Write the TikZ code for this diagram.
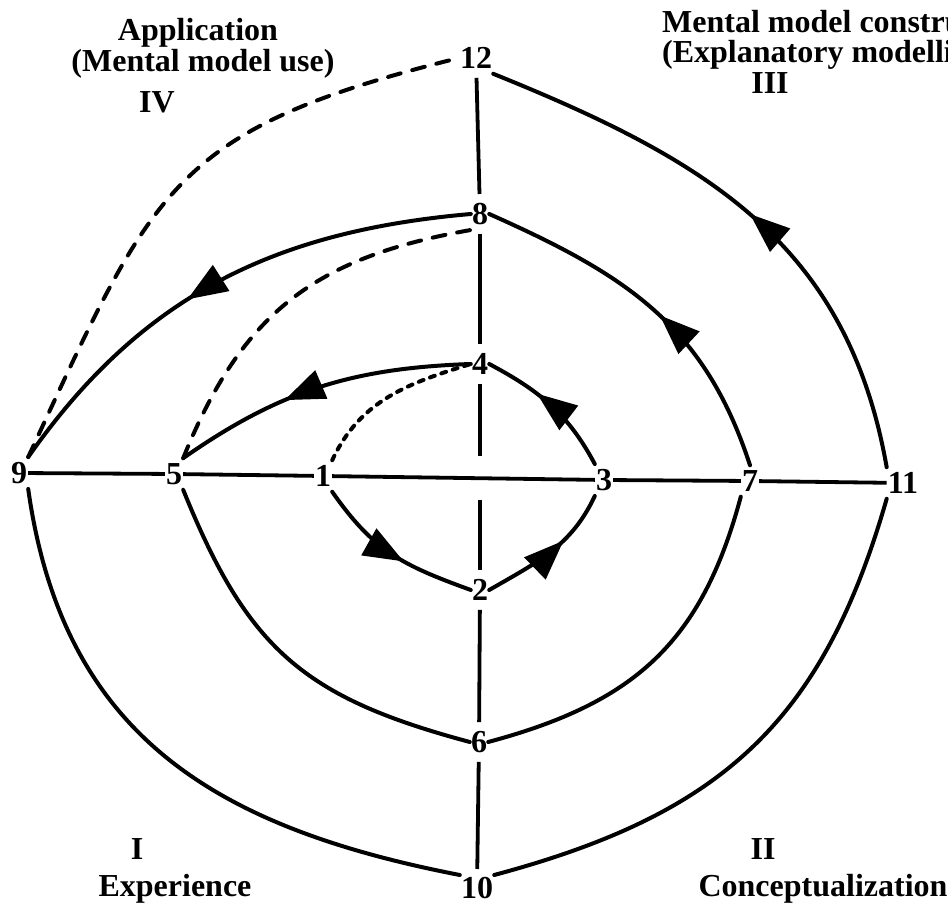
\documentclass[tikz,border=0pt]{standalone}
\usepackage{fontspec}
\setmainfont{Liberation Serif}
\usetikzlibrary{arrows.meta,decorations.markings}
\begin{document}
\begin{tikzpicture}[x=1pt,y=1pt,
  num/.style={font=\fontsize{32}{34}\selectfont\bfseries, inner xsep=1pt, inner ysep=5pt},
  captxt/.style={font=\fontsize{32}{36}\selectfont\bfseries, inner sep=0pt, anchor=base},
  captxtw/.style={font=\fontsize{32}{36}\selectfont\bfseries, inner sep=0pt, anchor=base west},
  ax/.style={line width=3.8pt},
  cv/.style={line width=4pt, line cap=round},
  dsh/.style={line width=4pt, line cap=round, dash pattern=on 13pt off 12pt},
  dtt/.style={line width=4pt, line cap=round, dash pattern=on 5pt off 7pt},
  midarrow/.style={postaction={decorate}, decoration={markings,
     mark=at position #1 with {\arrow{Triangle[length=40pt,width=30pt]}}}}
]
\useasboundingbox (0,0) rectangle (948,905);

% numbered nodes
\node[num] (n9)  at (19,432)  {9};
\node[num] (n5)  at (174,431) {5};
\node[num] (n1)  at (323,429) {1};
\node[num] (n3)  at (604,425) {3};
\node[num] (n7)  at (750,424) {7};
\node[num] (n11) at (903,422) {11};
\node[num] (n12) at (476,847) {12};
\node[num] (n8)  at (480,691) {8};
\node[num] (n4)  at (480,541) {4};
\node[num] (n2)  at (480,315) {2};
\node[num] (n6)  at (479,163) {6};
\node[num, inner ysep=2pt] (n10) at (477,17)  {10};

% quadrant captions
\node[captxt] (tApp) at (198,864) {Application};
\node[captxt] (tUse) at (203,833) {(Mental model use)};
\node[captxt] (tIV)  at (157,792) {IV};
\node[captxtw] (tCon) at (662,872) {Mental model construction};
\node[captxtw] (tExp) at (662,842) {(Explanatory modelling)};
\node[captxt] (tIII) at (770,811) {III};
\node[captxt] (tI)   at (137,45)  {I};
\node[captxt] (tEx)  at (175,8)   {Experience};
\node[captxt] (tII)  at (763,45)  {II};
\node[captxt] (tCo)  at (823,8)   {Conceptualization};

% axes
\draw[ax] (n9) -- (n5);
\draw[ax] (n5) -- (n1);
\draw[ax] (n1) -- (n3);
\draw[ax] (n3) -- (n7);
\draw[ax] (n7) -- (n11);
\coordinate (gapTop) at (480,449);
\coordinate (gapBot) at (480,405);
\draw[ax, shorten <=4pt, shorten >=4pt] (n12) -- (n8);
\draw[ax, shorten <=4pt, shorten >=4pt] (n8) -- (n4);
\draw[ax, shorten <=4pt] (n4) -- (gapTop);
\draw[ax, shorten >=4pt] (gapBot) -- (n2);
\draw[ax, shorten <=4pt, shorten >=4pt] (n2) -- (n6);
\draw[ax, shorten <=4pt, shorten >=6pt] (n6) -- (n10);

% inner loop
\draw[cv, midarrow=0.58] (n1.south east) to[out=-55, in=160, looseness=1.1] (n2.west);
\draw[cv, midarrow=0.62] (n2.east) to[out=30, in=-115] (n3.south west);
\draw[cv, midarrow=0.62] (n3.north west) to[out=118, in=-28] (n4.east);
\draw[cv, midarrow=0.62] (n4.west) to[out=182, in=35] (n5.north east);
\draw[dtt] (n1.north east) to[out=65, in=197] (n4.west);

% middle loop
\draw[cv] (n5.south east) to[out=-68, in=165, looseness=1.15] (n6.west);
\draw[cv] (n6.east) to[out=15, in=-105, looseness=1.1] (n7.south west);
\draw[cv, midarrow=0.47] (n7.north) to[out=108, in=-24, looseness=1.05] (n8.east);
\draw[cv, midarrow=0.57] (n8.west) to[out=185, in=55] (n9.north east);
\draw[dsh] (n5.north east) to[out=68, in=190, looseness=1.1] (n8.south west);

% outer loop
\draw[cv] (n9.south east) to[out=-82, in=169, looseness=1.1] (n10.north west);
\draw[cv] (n10.north east) to[out=15, in=-106, looseness=1.1] (n11.south west);
\draw[cv, midarrow=0.5] (n11.north west) to[out=100, in=-22, looseness=1.05] (n12.south east);
\draw[dsh] (n9.north east) to[out=65, in=194, looseness=1.3] (n12.west);
\end{tikzpicture}
\end{document}
